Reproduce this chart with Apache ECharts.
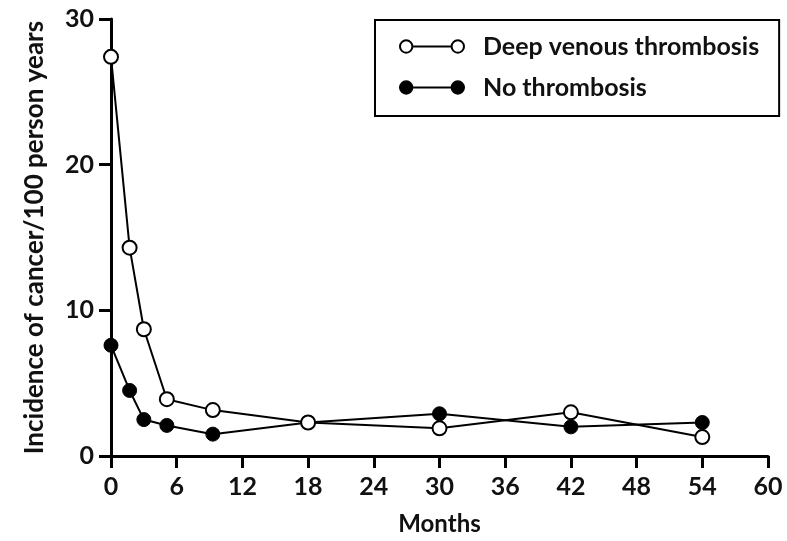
<!DOCTYPE html>
<html>
<head>
<meta charset="utf-8">
<script src="https://cdn.jsdelivr.net/npm/echarts@6/dist/echarts.min.js"></script>
<style>
  html, body { margin: 0; padding: 0; background: #fff; }
  #chart { width: 787px; height: 541px; }
</style>
</head>
<body>
<div id="chart"></div>
<script>
// months since baseline
var monthsDvt = [0, 1.7, 3, 5.1, 9.3, 18, 30, 42, 54]
var monthsNone = [0, 1.7, 3, 5.1, 9.3, 18, 30, 42, 54]
// incidence of cancer per 100 person years
var dvtValues = [27.4, 14.3, 8.7, 3.9, 3.15, 2.3, 1.9, 3.0, 1.3]
var noneValues = [7.6, 4.5, 2.5, 2.1, 1.5, 2.3, 2.9, 2.0, 2.3]
var seriesNames = ['Deep venous thrombosis', 'No thrombosis']

function pairs(xs, ys) {
  return xs.map(function (x, i) { return [x, ys[i]] })
}

var fontFamily = 'Lato, "Open Sans", sans-serif'
var legendIcon = 'path://M1,7 A6,6 0 1,1 13,7 A6,6 0 1,1 1,7 Z M13,7 L51,7 Z M51,7 A6,6 0 1,1 63,7 A6,6 0 1,1 51,7 Z'

var chart = echarts.init(document.getElementById('chart'))

var option = {
  animation: false,
  backgroundColor: '#fff',
  grid: { left: 111, right: 19, top: 19, bottom: 81, containLabel: false },
  legend: {
    left: 375,
    top: 20,
    orient: 'vertical',
    padding: [14, 20, 16, 24],
    itemGap: 16,
    itemWidth: 64,
    itemHeight: 14,
    borderColor: '#000',
    borderWidth: 2,
    borderRadius: 0,
    icon: legendIcon,
    textStyle: { fontFamily: fontFamily, fontSize: 25, fontWeight: 'bold', color: '#111', padding: [0, 0, 0, 14] },
    data: seriesNames
  },
  xAxis: {
    type: 'value',
    min: 0,
    max: 60,
    interval: 6,
    name: 'Months',
    nameLocation: 'middle',
    nameGap: 56,
    nameTextStyle: { fontFamily: fontFamily, fontSize: 24, fontWeight: 'bold', color: '#111' },
    axisLine: { show: true, lineStyle: { color: '#000', width: 3 } },
    axisTick: { show: true, length: 12, lineStyle: { color: '#000', width: 3 } },
    axisLabel: { margin: 18, fontFamily: fontFamily, fontSize: 25, fontWeight: 'bold', color: '#111' },
    splitLine: { show: false }
  },
  yAxis: {
    type: 'value',
    min: 0,
    max: 30,
    interval: 10,
    name: 'Incidence of cancer/100 person years',
    nameLocation: 'middle',
    nameGap: 63,
    nameTextStyle: { fontFamily: fontFamily, fontSize: 26, fontWeight: 'bold', color: '#111' },
    axisLine: { show: true, lineStyle: { color: '#000', width: 3 } },
    axisTick: { show: true, length: 12, lineStyle: { color: '#000', width: 3 } },
    axisLabel: { margin: 17, fontFamily: fontFamily, fontSize: 25, fontWeight: 'bold', color: '#111' },
    splitLine: { show: false }
  },
  series: [
    {
      name: seriesNames[0],
      type: 'line',
      data: pairs(monthsDvt, dvtValues),
      symbol: 'circle',
      symbolSize: 14,
      z: 3,
      lineStyle: { color: '#000', width: 2 },
      itemStyle: { color: '#fff', borderColor: '#000', borderWidth: 2 }
    },
    {
      name: seriesNames[1],
      type: 'line',
      data: pairs(monthsNone, noneValues),
      symbol: 'circle',
      symbolSize: 14,
      z: 2,
      lineStyle: { color: '#000', width: 2 },
      itemStyle: { color: '#000', borderColor: '#000', borderWidth: 1 }
    }
  ]
}

chart.setOption(option)
window.addEventListener('resize', function () { chart.resize() })
</script>
</body>
</html>
